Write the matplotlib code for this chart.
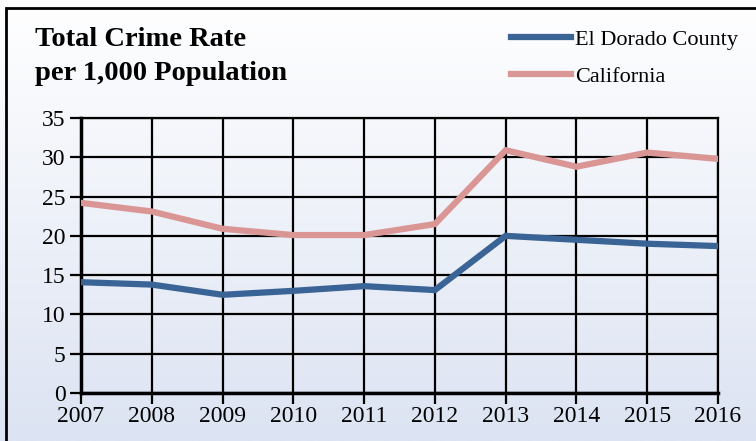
import numpy as np
import matplotlib
matplotlib.use("Agg")
import matplotlib.pyplot as plt
from matplotlib.patches import Rectangle

years = [2007, 2008, 2009, 2010, 2011, 2012, 2013, 2014, 2015, 2016]
el_dorado = [14.1, 13.8, 12.5, 13.0, 13.6, 13.1, 20.0, 19.5, 19.0, 18.7]
california = [24.2, 23.1, 20.9, 20.1, 20.1, 21.5, 30.9, 28.8, 30.6, 29.8]
series_names = ["El Dorado County", "California"]
title_lines = ["Total Crime Rate", "per 1,000 Population"]

plt.rcParams["font.family"] = ["Liberation Serif", "DejaVu Serif"]

W, H = 756, 441
fig = plt.figure(figsize=(W / 100, H / 100), dpi=100)

# vertical gradient background: white at top fading to pale blue
bg = fig.add_axes([0, 0, 1, 1], zorder=-10)
grad = np.linspace(0, 1, 256).reshape(-1, 1)
top = np.array([1.0, 1.0, 1.0])
bot = np.array([0xdc, 0xe3, 0xf2]) / 255
img = top + (bot - top) * grad[..., None]
bg.imshow(img, aspect="auto", extent=[0, 1, 0, 1], origin="upper")
bg.set_xlim(0, 1)
bg.set_ylim(0, 1)
bg.axis("off")

# chart frame
fig.patches.append(Rectangle((6 / W, -0.1), 1.2, 1 - 8 / H + 0.1,
                             transform=fig.transFigure, fill=False,
                             edgecolor="black", linewidth=2, zorder=5))

ax = fig.add_axes([81 / W, 1 - 393 / H, (718 - 81) / W, (393 - 118) / H])
ax.patch.set_alpha(0)

blue = "#3a6496"
pink = "#d99694"
l1, = ax.plot(years, el_dorado, color=blue, linewidth=4.5, solid_joinstyle="miter", zorder=3)
l2, = ax.plot(years, california, color=pink, linewidth=4.5, solid_joinstyle="miter", zorder=3)

ax.set_xlim(years[0], years[-1])
ax.set_ylim(0, 35)
ax.set_xticks(years)
ax.set_yticks(range(0, 36, 5))
ax.grid(True, color="black", linewidth=1.6)
ax.set_axisbelow(True)
for s in ax.spines.values():
    s.set_linewidth(1.6)
ax.spines["left"].set_linewidth(2.5)
ax.spines["bottom"].set_linewidth(2.5)
ax.tick_params(axis="both", length=8, width=1.6, color="black", labelsize=17, pad=1)
ax.tick_params(axis="y", pad=3)

fig.text(35 / W, 1 - 39 / H, title_lines[0], fontsize=20.5, fontweight="bold", va="center", ha="left")
fig.text(35 / W, 1 - 73 / H, title_lines[1], fontsize=20.5, fontweight="bold", va="center", ha="left")

leg = fig.legend([l1, l2], series_names, loc="upper left", bbox_to_anchor=(511 / W, 1 - 29 / H),
                 frameon=False, fontsize=16, handlelength=2.7, handletextpad=0.18,
                 labelspacing=0.75, borderpad=0, borderaxespad=0)

fig.savefig("out.png", dpi=100)
